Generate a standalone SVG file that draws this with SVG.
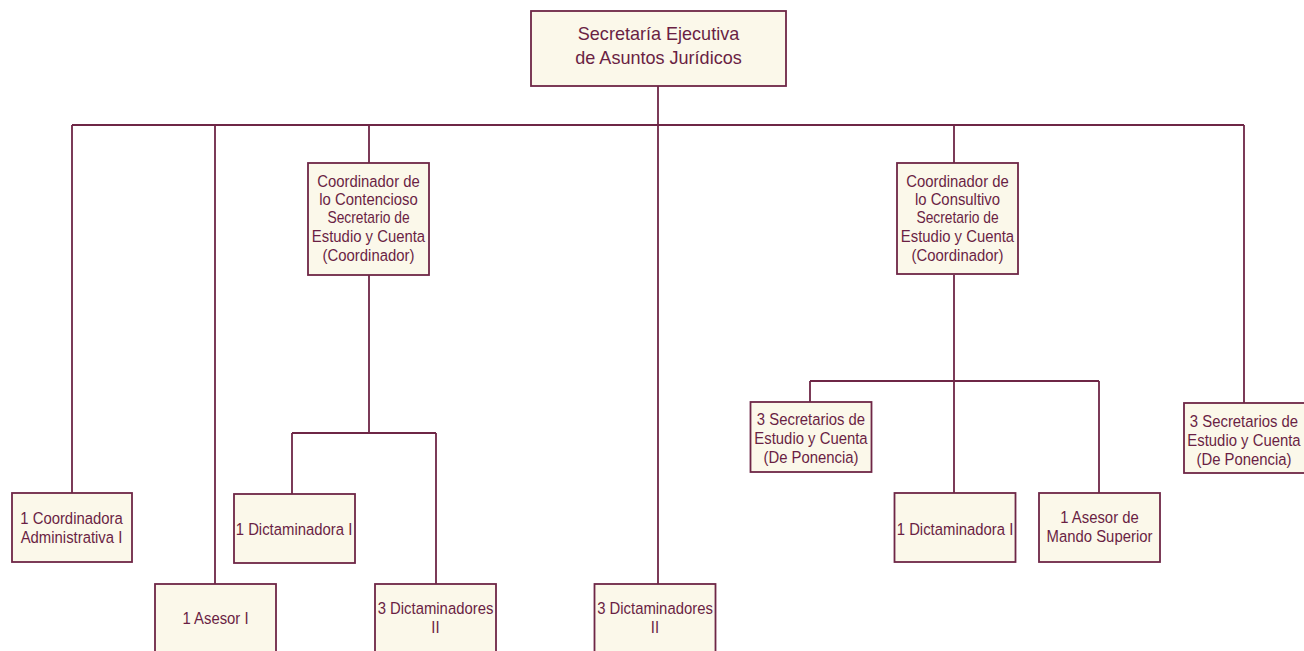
<svg xmlns="http://www.w3.org/2000/svg" width="1304" height="651" viewBox="0 0 1304 651">
<style>
.box{fill:#fbf8ea;stroke:#6e2646;stroke-width:1.8}
.t{font-family:"Liberation Sans",Arial,sans-serif;font-size:17px;fill:#6a1f44;text-anchor:middle}
.s{font-size:15.8px}
.big{font-size:19px}
.c{fill:none;stroke:#6e2646;stroke-width:1.8}
</style>
<rect width="1304" height="651" fill="#ffffff"/>
<g id="connectors">
<path class="c" d="M658 86V125M72 125H1244M72 125V493M215 125V584M369 125V163M658 125V584M954 125V163M1244 125V403"/>
<path class="c" d="M369 275V433M292 433H436M292 433V494M436 433V584"/>
<path class="c" d="M954 275V493M810 381H1099M810 381V402M1099 381V493"/>
</g>
<g id="n-secretaria">
<rect class="box" x="531" y="11" width="255" height="75"/>
<g transform="translate(658.5 0) scale(0.95 1)">
<text class="t big" x="0" y="40">Secretaría Ejecutiva</text>
<text class="t big" x="0" y="64">de Asuntos Jurídicos</text>
</g>
</g>
<g id="n-contencioso">
<rect class="box" x="308" y="163" width="121" height="112"/>
<g transform="translate(368.5 0) scale(0.875 1)">
<text class="t" x="0" y="187">Coordinador de</text>
<text class="t" x="0" y="205">lo Contencioso</text>
<text class="t s" x="0" y="223">Secretario de</text>
<text class="t" x="0" y="242.5">Estudio y Cuenta</text>
<text class="t" x="0" y="261">(Coordinador)</text>
</g>
</g>
<g id="n-consultivo">
<rect class="box" x="897" y="163" width="121" height="111"/>
<g transform="translate(957.5 0) scale(0.875 1)">
<text class="t" x="0" y="187">Coordinador de</text>
<text class="t" x="0" y="205">lo Consultivo</text>
<text class="t s" x="0" y="223">Secretario de</text>
<text class="t" x="0" y="242.5">Estudio y Cuenta</text>
<text class="t" x="0" y="261">(Coordinador)</text>
</g>
</g>
<g id="n-coordadmin">
<rect class="box" x="12" y="493" width="120" height="69"/>
<g transform="translate(71.5 0) scale(0.875 1)">
<text class="t" x="0" y="524">1 Coordinadora</text>
<text class="t" x="0" y="543">Administrativa I</text>
</g>
</g>
<g id="n-asesor1">
<rect class="box" x="155" y="584" width="121" height="72"/>
<g transform="translate(215.5 0) scale(0.875 1)">
<text class="t" x="0" y="624">1 Asesor I</text>
</g>
</g>
<g id="n-dictaminadora-l">
<rect class="box" x="234" y="494" width="121" height="69"/>
<g transform="translate(294 0) scale(0.875 1)">
<text class="t" x="0" y="535">1 Dictaminadora I</text>
</g>
</g>
<g id="n-dictaminadores-l">
<rect class="box" x="375" y="584" width="121" height="72"/>
<g transform="translate(435.5 0) scale(0.875 1)">
<text class="t" x="0" y="614">3 Dictaminadores</text>
<text class="t" x="0" y="633">II</text>
</g>
</g>
<g id="n-dictaminadores-c">
<rect class="box" x="594.5" y="584" width="121" height="72"/>
<g transform="translate(655 0) scale(0.875 1)">
<text class="t" x="0" y="614">3 Dictaminadores</text>
<text class="t" x="0" y="633">II</text>
</g>
</g>
<g id="n-secretarios-r1">
<rect class="box" x="750.5" y="402" width="121" height="70"/>
<g transform="translate(811 0) scale(0.875 1)">
<text class="t" x="0" y="425">3 Secretarios de</text>
<text class="t" x="0" y="444">Estudio y Cuenta</text>
<text class="t" x="0" y="463">(De Ponencia)</text>
</g>
</g>
<g id="n-dictaminadora-r">
<rect class="box" x="894.5" y="493" width="121" height="69"/>
<g transform="translate(955 0) scale(0.875 1)">
<text class="t" x="0" y="535">1 Dictaminadora I</text>
</g>
</g>
<g id="n-asesor-mando">
<rect class="box" x="1039" y="493" width="121" height="69"/>
<g transform="translate(1099.5 0) scale(0.875 1)">
<text class="t" x="0" y="523">1 Asesor de</text>
<text class="t" x="0" y="542">Mando Superior</text>
</g>
</g>
<g id="n-secretarios-r2">
<rect class="box" x="1184" y="403" width="121" height="70"/>
<g transform="translate(1244 0) scale(0.875 1)">
<text class="t" x="0" y="427">3 Secretarios de</text>
<text class="t" x="0" y="446">Estudio y Cuenta</text>
<text class="t" x="0" y="465">(De Ponencia)</text>
</g>
</g>
</svg>
